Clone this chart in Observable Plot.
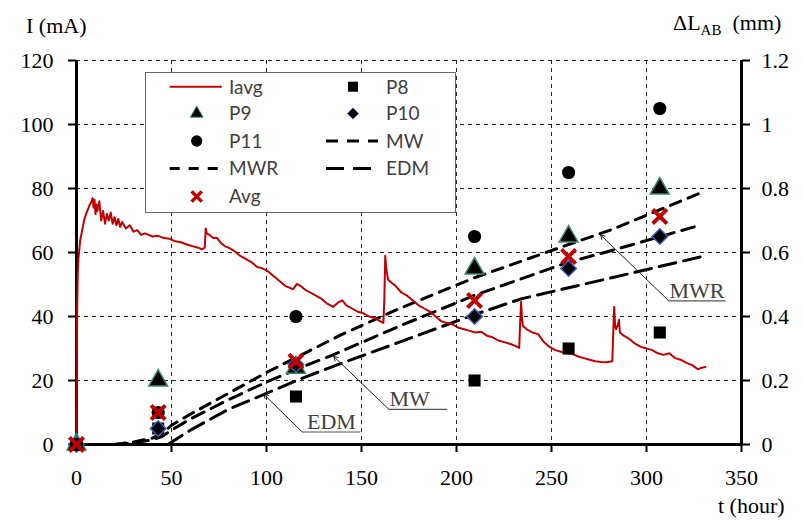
<!DOCTYPE html>
<html><head><meta charset="utf-8">
<script src="https://cdn.jsdelivr.net/npm/d3@7"></script>
<script src="https://cdn.jsdelivr.net/npm/@observablehq/plot@0.6"></script>
<style>
body{margin:0;background:#fff}
#chart{width:803px;height:522px}
#chart svg text, #chart svg tspan{font-family:"Liberation Serif","DejaVu Serif",serif}
#chart svg .legend text{font-family:Lato,"Open Sans",sans-serif;text-anchor:start}
#chart svg .title{text-anchor:start}
</style>
</head><body><div id="chart"></div>
<script>
// ---- Iavg (mA) vs t (hour) ----
const iavgT = [0,0.3,0.6,1,1.5,2,3,4,5,6,7,8,8.5,9,9.5,10,10.5,11,12,13,14,15,16,17,18,19,20,21,22,23,24,26,28,30,32,34,36,38,40,43,46,49,52,55,58,61,64,66,67.5,68,68.5,70,72,74,76,78,80,83,86,89,92,95,98,101,104,107,110,112,114,116,118,120,123,126,129,132,135,138,140,142,145,148,151,154,157,160,161.5,162,162.5,163,164,166,168,171,174,177,180,183,186,189,192,195,198,201,204,207,210,213,216,219,222,225,228,231,233,233.5,234,234.5,235,237,240,243,246,249,252,255,258,261,264,267,270,273,276,279,282,282.5,283,283.5,284,285,285.5,286,288,291,294,297,300,303,306,309,312,315,318,321,324,327,329,331];
const iavgI = [0,40,52,58,61,64,67,70,72,73.5,75,76,77,74,76.5,72,75,73,76,70,73,69,72,70,72.5,69,71,68.5,70.5,68,69.5,67.5,68.5,66.5,67,65.5,66,65.5,65,65.2,64.5,64.3,63.5,63.2,62.5,62,61.5,61,61.5,67.5,66,65.5,64.5,64.5,63,62,61.5,60.5,59,58,57,55.5,55,54,52.5,51,49.5,49,48.5,50.2,49.5,48.5,47.5,46.5,45.5,44,43,44.5,45,43.5,42.5,41.5,41,40,39.5,38.5,38,45,59,55,51.5,50.5,49.5,47.5,46.5,45,43.5,42.5,41.5,40,38.5,38,37.5,36.5,36,35.5,35,35.2,34,33.5,32.5,32,31.5,30.8,30.2,38,44.6,39,37,36,35,34.5,32,30.5,29.5,29,28.5,28.3,27.5,27,26.5,26,25.8,25.7,26,35,43,37,36,37.5,39,35,34,33,31.5,30.5,30,29.5,28.5,28,28.5,27,26.5,25.5,24.8,23.5,24,24.2];

// ---- ΔL_AB (mm) measurements ----
const sampleT = [0, 43, 115.5, 209.5, 259, 307];
const p8  = [0, 0.05, 0.15, 0.20, 0.30, 0.35];
const p9  = [0, 0.20, 0.24, 0.55, 0.65, 0.80];
const p10 = [0, 0.05, 0.25, 0.40, 0.55, 0.65];
const p11 = [0, 0.10, 0.40, 0.65, 0.85, 1.05];
const avgL = [0, 0.10, 0.26, 0.45, 0.5875, 0.7125];

// ---- model curves (mm) ----
const mwrT = [20,30,40,45,50,60,80,100,120,140,170,209,259,281,330];
const mwrV = [0,0.008,0.02,0.035,0.06,0.095,0.16,0.225,0.285,0.345,0.425,0.52,0.625,0.67,0.79];
const mwT  = [20,30,40,45,50,60,80,100,120,135,170,209,259,278,328];
const mwV  = [0,0.005,0.015,0.025,0.045,0.08,0.14,0.195,0.245,0.28,0.37,0.465,0.57,0.6,0.685];
const edmT = [48,60,80,100,120,140,170,209,234,259,281,331];
const edmV = [0,0.045,0.11,0.16,0.21,0.255,0.32,0.405,0.455,0.49,0.52,0.59];

// ---- ticks ----
const xTicks = [0,50,100,150,200,250,300,350];
const xGrid = [50,100,150,200,250,300];
const leftTicks = [0,20,40,60,80,100,120];
const yGrid = [20,40,60,80,100,120];
const rightTicks = [0,0.2,0.4,0.6,0.8,1,1.2];

// ---- annotations ----
const annText = ["EDM","MW","MWR"];
const annTipT = [98.6,135.4,275.8];
const annTipV = [0.157,0.275,0.655];
const annBaseT = [118.8,164.4,311.7];
const annBaseV = [0.039,0.11,0.449];
const annEndT = [149.5,195.1,341.6];
const annTextT = [134.2,175.3,326.6];

const MM = 100; // right axis (mm) -> left axis units
const iavg = iavgT.map((t,i)=>({t, v: iavgI[i]}));
const pts = (arr)=> sampleT.map((t,i)=>({t, v: arr[i]*MM}));
const curve = (ts, vs)=> ts.map((t,i)=>({t, v: vs[i]*MM}));
const ann = annText.map((s,i)=>({s, tipT: annTipT[i], tipV: annTipV[i]*MM, bT: annBaseT[i], bV: annBaseV[i]*MM, eT: annEndT[i], xT: annTextT[i]}));

const RED = "#c00000";
const SERIF = "Liberation Serif";

const plot = Plot.plot({
  width: 803, height: 522,
  marginLeft: 76, marginRight: 62, marginTop: 60, marginBottom: 78,
  x: {domain: [0, 350]},
  y: {domain: [0, 120]},
  style: {fontFamily: SERIF, fontSize: "22px", color: "black", background: "white", overflow: "visible"},
  marks: [
    Plot.gridX(xGrid, {stroke: "#000", strokeOpacity: 0.85, strokeDasharray: "4,4", strokeWidth: 1}),
    Plot.gridY(yGrid, {stroke: "#000", strokeOpacity: 0.85, strokeDasharray: "4,4", strokeWidth: 1}),
    Plot.ruleX([0, 350], {stroke: "#000", strokeWidth: 3}),
    Plot.ruleY([0], {stroke: "#000", strokeWidth: 3}),
    Plot.axisX(xTicks, {tickSize: 8, tickPadding: 17, strokeWidth: 2, label: null, fontSize: 22, fontFamily: SERIF}),
    Plot.axisY(leftTicks, {anchor: "left", tickSize: 8, tickPadding: 15, strokeWidth: 2, label: null, fontSize: 22, fontFamily: SERIF}),
    Plot.axisY(rightTicks.map(v=>v*MM), {anchor: "right", tickSize: 8, tickPadding: 12, strokeWidth: 2, label: null, fontSize: 22, fontFamily: SERIF,
      tickFormat: d => String(+(d/MM).toFixed(1))}),
    // model curves
    Plot.line(curve(edmT, edmV), {x: "t", y: "v", stroke: "#000", strokeWidth: 3, strokeDasharray: "17,8"}),
    Plot.line(curve(mwT, mwV), {x: "t", y: "v", stroke: "#000", strokeWidth: 3, strokeDasharray: "13,8"}),
    Plot.line(curve(mwrT, mwrV), {x: "t", y: "v", stroke: "#000", strokeWidth: 3, strokeDasharray: "11,8"}),
    // current
    Plot.line(iavg, {x: "t", y: "v", stroke: RED, strokeWidth: 2}),
    // measurements
    Plot.dot(pts(p8), {x: "t", y: "v", symbol: "square", r: 6.8, fill: "#000"}),
    Plot.dot(pts(p9), {x: "t", y: "v", symbol: "triangle", r: 7, fill: "#000", stroke: "#3a8a6a", strokeWidth: 1.5}),
    Plot.dot(pts(p10), {x: "t", y: "v", symbol: "diamond2", r: 7, fill: "#000", stroke: "#3b5cb8", strokeWidth: 1.5}),
    Plot.dot(pts(p11), {x: "t", y: "v", symbol: "circle", r: 6.6, fill: "#000"}),
    Plot.dot(pts(avgL), {x: "t", y: "v", symbol: "times", r: 6.5, stroke: RED, strokeWidth: 4}),
    // annotations
    Plot.link(ann, {x1: "bT", y1: "bV", x2: "eT", y2: "bV", stroke: "#555", strokeWidth: 1.2}),
    Plot.arrow(ann, {x1: "bT", y1: "bV", x2: "tipT", y2: "tipV", stroke: "#222", strokeWidth: 1, headLength: 7}),
    Plot.text(ann, {x: "xT", y: "bV", text: "s", dy: -3, lineAnchor: "bottom", fontSize: 22, fill: "#404040", fontFamily: SERIF})
  ]
});
document.getElementById("chart").appendChild(plot);

// ---- titles and legend ----
const svg = d3.select(plot);
svg.append("text").attr("class", "title").attr("x", 26).attr("y", 33).attr("font-size", 22).attr("fill", "#000").text("I (mA)");
const rt = svg.append("text").attr("class", "title").attr("x", 673).attr("y", 30).attr("font-size", 22).attr("fill", "#000");
rt.append("tspan").text("ΔL");
rt.append("tspan").attr("font-size", 15).attr("dy", 5).text("AB");
rt.append("tspan").attr("dy", -5).text("\u00a0 (mm)");
svg.append("text").attr("class", "title").attr("x", 718).attr("y", 513).attr("font-size", 22).attr("fill", "#000").text("t (hour)");

const lg = svg.append("g").attr("class", "legend").attr("font-size", 19).attr("fill", "#404040");
lg.append("rect").attr("x", 145.5).attr("y", 72.5).attr("width", 310).attr("height", 140).attr("fill", "#fff").attr("stroke", "#666").attr("stroke-width", 1);
const rows = [86.7, 113.5, 141, 168.5, 196.5];
const c1 = 196.7, c2 = 353, t1 = 229, t2 = 386;
const sym = (type, size) => d3.symbol(type, size)();
function item(col, row, label, draw){
  const cx = col === 0 ? c1 : c2, y = rows[row];
  draw(cx, y);
  lg.append("text").attr("x", col === 0 ? t1 : t2).attr("y", y).attr("dy", "0.36em").text(label);
}
const line = (dash, color, w) => (cx, y) => lg.append("line").attr("x1", cx-27).attr("x2", cx+25).attr("y1", y).attr("y2", y)
  .attr("stroke", color).attr("stroke-width", w).attr("stroke-dasharray", dash);
const mark = (type, size, fill, stroke, sw) => (cx, y) => lg.append("path").attr("d", sym(type, size)).attr("transform", `translate(${cx},${y})`)
  .attr("fill", fill).attr("stroke", stroke).attr("stroke-width", sw);
item(0, 0, "Iavg", line(null, RED, 2));
item(1, 0, "P8", mark(d3.symbolSquare, 100, "#000", "none", 0));
item(0, 1, "P9", mark(d3.symbolTriangle, 70, "#000", "#3a8a6a", 1));
item(1, 1, "P10", mark(d3.symbolDiamond2, 80, "#000", "#3b5cb8", 1));
item(0, 2, "P11", mark(d3.symbolCircle, 100, "#000", "none", 0));
item(1, 2, "MW", line("12,9", "#000", 3));
item(0, 3, "MWR", line("10,9", "#000", 3));
item(1, 3, "EDM", line("18,9", "#000", 3));
item(0, 4, "Avg", mark(d3.symbolTimes, 70, "none", RED, 3.5));
</script></body></html>
